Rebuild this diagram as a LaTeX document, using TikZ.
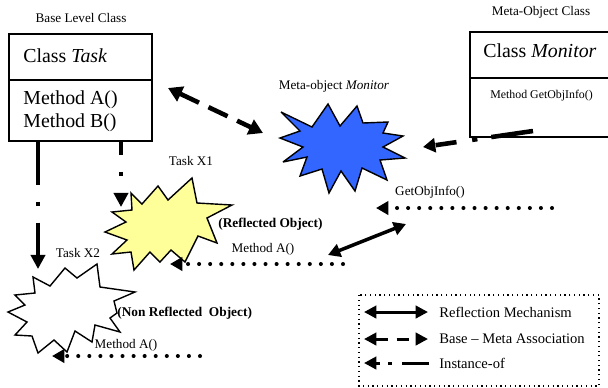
\documentclass[tikz,border=0pt]{standalone}
\usepackage{fontspec}
\setmainfont{Liberation Serif}
\usetikzlibrary{arrows.meta}
\definecolor{starblue}{RGB}{51,102,255}
\definecolor{staryellow}{RGB}{255,255,153}
\begin{document}
\begin{tikzpicture}[x=0.02cm,y=-0.02cm,
  small/.style={font=\fontsize{7.5}{9}\selectfont, inner sep=0pt},
  big/.style={font=\fontsize{11.3}{13}\selectfont, inner sep=0pt, anchor=west},
  legtxt/.style={font=\fontsize{8.3}{10}\selectfont, inner sep=0pt, anchor=west},
  boldlbl/.style={font=\fontsize{7.6}{9}\selectfont\bfseries, inner sep=0pt, anchor=west},
  classbox/.style={draw, line width=0.8pt, fill=white},
  starshape/.style={draw, line width=0.8pt, line join=miter, miter limit=4},
  assoc/.style={line width=2.6pt, dash pattern=on 12pt off 6pt, {Triangle[length=8pt,width=9pt]}-{Triangle[length=8pt,width=9pt]}},
  assocone/.style={line width=2.6pt, dash pattern=on 24pt off 8pt on 3pt off 9pt on 12pt, -{Triangle[length=7pt,width=8pt]}},
  dots/.style={line width=2.3pt, line cap=round, dash pattern=on 0pt off 6.3pt, -{Triangle[length=7pt,width=7.5pt]}},
  refl/.style={line width=2pt, {Triangle[length=7pt,width=7.5pt]}-{Triangle[length=7pt,width=7.5pt]}},
  inst/.style={line width=2.8pt, dash pattern=on 24.4pt off 9.6pt on 2.3pt off 9.6pt, -{Triangle[length=8pt,width=8pt]}},
  instshort/.style={line width=2.8pt, dash pattern=on 7.4pt off 9.6pt on 2.3pt off 30pt, -{Triangle[length=8pt,width=8pt]}},
  legarrow/.style={line width=1.7pt}
]
\useasboundingbox (0,0) rectangle (608,387);

% ---------- Base level class box ----------
\draw[classbox] (9,34) rectangle (152,141);
\draw[line width=0.8pt] (9,80) -- (152,80);
\node[small] (baselbl) at (81,18) {Base Level Class};
\node[big] (classtask) at (23,56) {Class \textit{Task}};
\node[big] (methA) at (23,100) {Method A()};
\node[big] (methB) at (23,123) {Method B()};
\coordinate (taskBL) at (38,142);
\coordinate (taskBR) at (121,142);
\coordinate (taskE) at (168,88);

% ---------- Meta-object class box ----------
\draw[classbox] (470,32) rectangle (620,137);
\draw[line width=0.8pt] (470,78) -- (620,78);
\node[small] (metalbl) at (541,12) {Meta-Object Class};
\node[big] (classmon) at (483,51) {Class \textit{Monitor}};
\node[font=\fontsize{6.75}{8}\selectfont, inner sep=0pt, anchor=west] (getobj) at (490,96) {Method GetObjInfo()};
\coordinate (monBox) at (533,131);

% ---------- Meta-object Monitor (blue star) ----------
\draw[starshape, fill=starblue] (281,112) -- (312,127) -- (328,104) -- (340,126) -- (357,106) -- (363,123)
  -- (388,122) -- (383,133) -- (403,136) -- (383,147) -- (405,158) -- (380,160) -- (387,180)
  -- (362,168) -- (355,191) -- (341,171) -- (329,193) -- (322,169) -- (300,176) -- (307,157)
  -- (283,162) -- (303,147) -- (280,138) -- (300,131) -- cycle;
\node[small] (monlbl) at (334,86) {Meta-object \textit{Monitor}};
\coordinate (monW) at (263,133);
\coordinate (monE) at (423,147);

% ---------- Task X1 (yellow star) ----------
\draw[starshape, fill=staryellow] (131,193) -- (142,204) -- (158,186) -- (168,200) -- (192,178)
  -- (197,203) -- (232,205) -- (207,218) -- (217,243) -- (198,236) -- (185,262) -- (171,250)
  -- (160,262) -- (150,252) -- (134,270) -- (131,252) -- (112,254) -- (127,240) -- (105,232)
  -- (126,222) -- (112,212) -- (132,210) -- cycle;
\node[small] (x1lbl) at (191,161) {Task X1};
\node[boldlbl] (reflbl) at (218,224) {(Reflected Object)};
\coordinate (x1top) at (121,207);
\coordinate (x1E) at (170,264);

% ---------- Task X2 (white star) ----------
\draw[starshape, fill=white] (33,277) -- (50,286) -- (65,268) -- (77,278) -- (97,264) -- (100,287)
  -- (135,292) -- (114,301) -- (117,313) -- (110,318) -- (120,332) -- (95,325) -- (92,342)
  -- (75,331) -- (67,352) -- (54,340) -- (38,353) -- (32,336) -- (15,335) -- (27,322)
  -- (8,312) -- (25,305) -- (15,295) -- (35,293) -- cycle;
\node[small] (x2lbl) at (78,253) {Task X2};
\node[boldlbl] (nonreflbl) at (117,313) {(Non Reflected\ \ Object)};
\coordinate (x2top) at (38,269);
\coordinate (x2E) at (52,356);

% ---------- connectors ----------
\draw[assoc] (taskE) -- (monW);
\draw[assocone] (monBox) -- (monE);
\draw[inst] (taskBL) -- (x2top);
\draw[instshort] (taskBR) -- (x1top);

\coordinate (getobjS) at (552,208);
\coordinate (getobjT) at (376,208);
\draw[dots] (getobjS) -- (getobjT);
\node[small] (getobjlbl) at (430,192) {GetObjInfo()};

\coordinate (mAs) at (343,264);
\draw[dots] (mAs) -- (x1E);
\node[small] (mAlbl) at (263,249) {Method A()};

\coordinate (mBs) at (200,356);
\draw[dots] (mBs) -- (x2E);
\node[small] (mBlbl) at (126,345) {Method A()};

\coordinate (reflA) at (328,255);
\coordinate (reflB) at (406,224);
\draw[refl] (reflA) -- (reflB);

% ---------- legend ----------
\draw[line width=0.7pt, dotted] (359,295) rectangle (599,386);
\coordinate (l1a) at (364,312); \coordinate (l1b) at (428,312);
\coordinate (l2a) at (364,339); \coordinate (l2b) at (428,339);
\coordinate (l3a) at (364,363); \coordinate (l3b) at (429,363);
\draw[legarrow, {Triangle[length=7pt,width=7pt]}-{Triangle[length=7pt,width=7pt]}] (l1a) -- (l1b);
\draw[legarrow, dash pattern=on 7pt off 5pt, {Triangle[length=7pt,width=7pt]}-{Triangle[length=7pt,width=7pt]}] (l2a) -- (l2b);
\draw[legarrow, dash pattern=on 15.3pt off 5.7pt on 2.3pt off 4.5pt on 10pt, -{Triangle[length=7pt,width=7pt]}] (l3b) -- (l3a);
\node[legtxt] (leg1) at (439,312) {Reflection Mechanism};
\node[legtxt] (leg2) at (439,339) {Base -- Meta Association};
\node[legtxt] (leg3) at (439,363) {Instance-of};
\end{tikzpicture}
\end{document}
